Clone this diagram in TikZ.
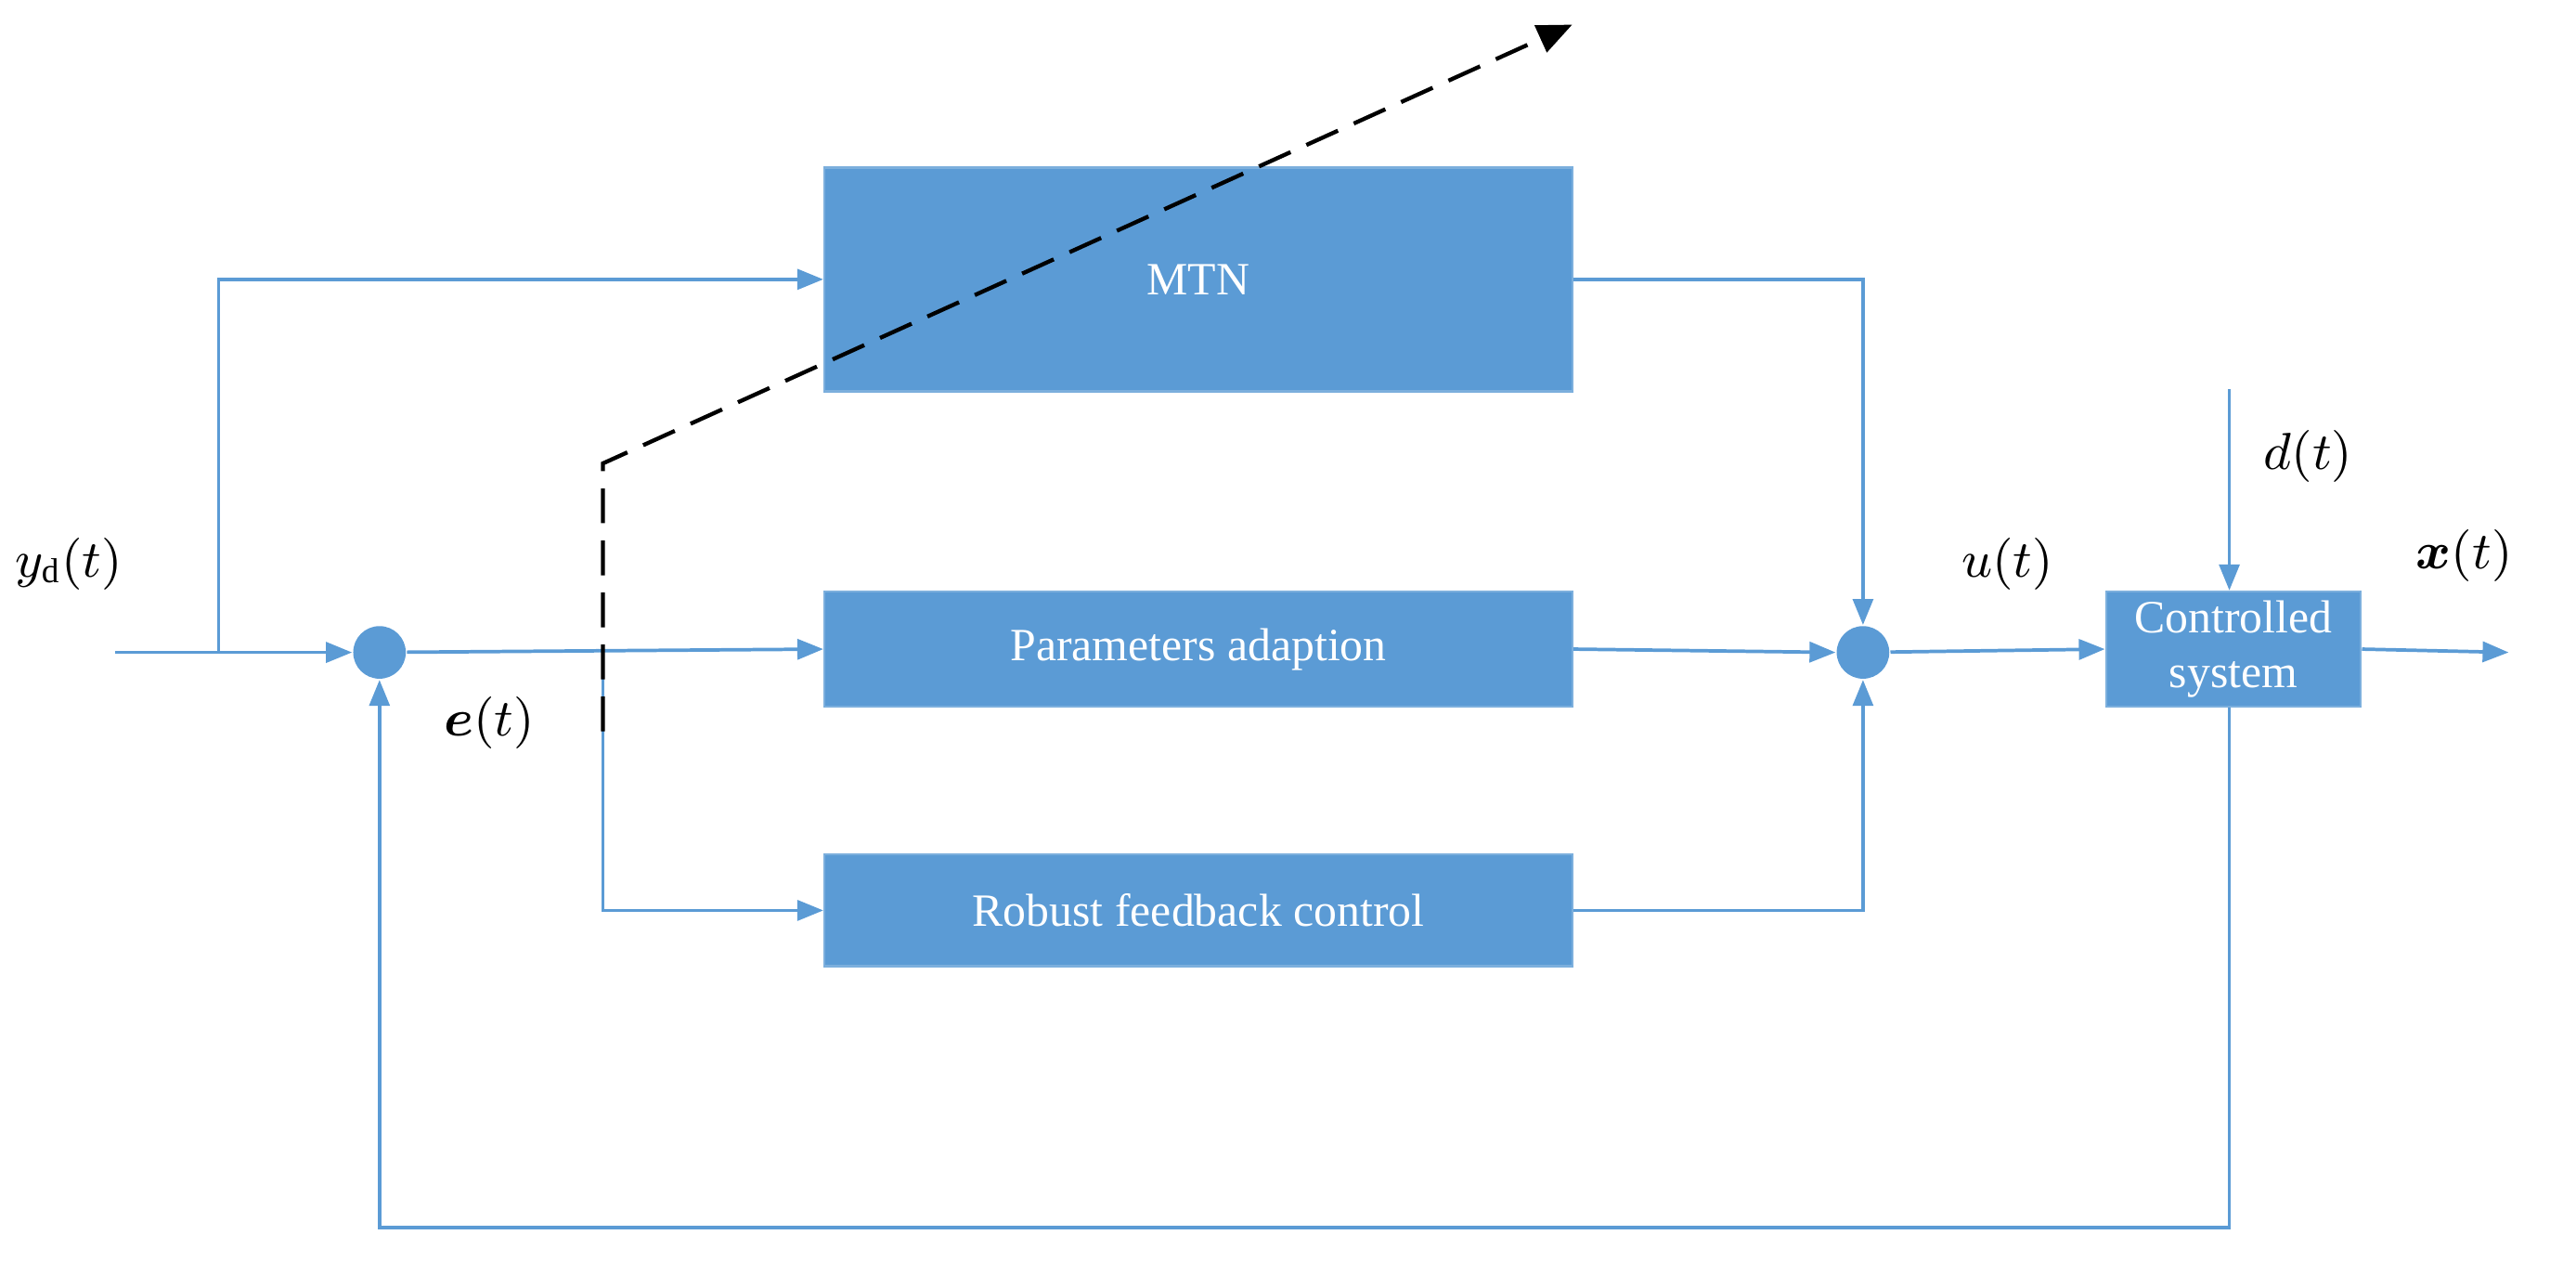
\documentclass[tikz,border=0pt]{standalone}
\usepackage{amsmath,amssymb,bm}
\usepackage{fontspec}
\setmainfont{Liberation Serif}
\usetikzlibrary{arrows.meta}
\definecolor{blk}{RGB}{91,155,213}
\tikzset{
  blockbox/.style={rectangle, fill=blk, draw=blk!80!white, inner sep=0pt, text=white, font=\fontsize{8}{9.5}\selectfont, align=center},
  sumnode/.style={circle, fill=blk, minimum size=0.32cm, inner sep=0pt},
  sig/.style={draw=blk, line width=0.6pt, -{Triangle[length=4.5pt,width=3.5pt]}},
  lbl/.style={font=\fontsize{9}{11}\selectfont}
}
\begin{document}
\begin{tikzpicture}[x=0.01cm, y=-0.01cm]
	\useasboundingbox (0,0) rectangle (1568,767);
	\node[blockbox, minimum width=4.55cm, minimum height=1.36cm](mtn) at (729.5,170){MTN};
	\node[blockbox, minimum width=4.55cm, minimum height=0.70cm](param) at (729.5,395){Parameters adaption};
	\node[blockbox, minimum width=4.55cm, minimum height=0.68cm](robust) at (729.5,554){Robust feedback control};
	\node[blockbox, minimum width=1.55cm, minimum height=0.70cm](plant) at (1359.5,395){Controlled\\system};
	\node[sumnode](sumone) at (231,397){};
	\node[sumnode](sumtwo) at (1134,397){};
	\coordinate (in) at (70,397);
	\coordinate (split) at (133,397);
	\coordinate (esplit) at (367,397);
	\coordinate (dist) at (1357,237);
	\coordinate (out) at (1527,397);
	\coordinate (fb) at (1357,747);
	\coordinate (dstart) at (367,445);
	\coordinate (dbend) at (367,282);
	\coordinate (dend) at (957,15);

	\draw[sig] (in) -- (sumone);
	\draw[sig] (split) |- (mtn.west);
	\draw[sig] (sumone) -- (param.west);
	\draw[sig] (esplit) |- (robust.west);
	\draw[sig] (mtn.east) -| (sumtwo.north);
	\draw[sig] (param.east) -- (sumtwo.west);
	\draw[sig] (robust.east) -| (sumtwo.south);
	\draw[sig] (sumtwo) -- (plant.west);
	\draw[sig] (dist) -- (dist |- plant.north);
	\draw[sig] (plant.east) -- (out);
	\draw[sig] (fb |- plant.south) -- (fb) -| (sumone.south);

	\draw[black, dashed, line width=0.7pt, dash pattern=on 6pt off 3pt, -{Triangle[length=6pt,width=5pt]}] (dstart) -- (dbend) -- (dend);

	\node[lbl](yd) at (42,343){$y_{\mathrm{d}}(t)$};
	\node[lbl](et) at (298,440){$\bm{e}(t)$};
	\node[lbl](ut) at (1222,343){$u(t)$};
	\node[lbl](dt) at (1405,278){$d(t)$};
	\node[lbl](xt) at (1500,338){$\bm{x}(t)$};
\end{tikzpicture}
\end{document}
